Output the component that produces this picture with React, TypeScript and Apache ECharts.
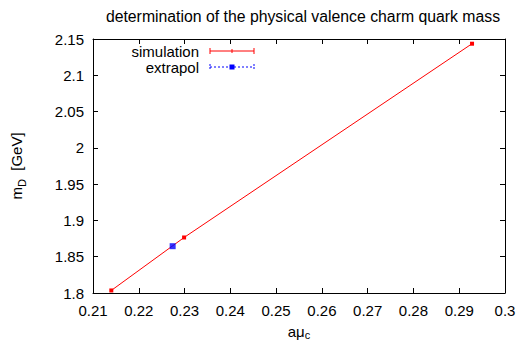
import React, { useEffect, useRef } from "react";
import * as echarts from "echarts";

const simX = [0.214, 0.2299, 0.2928];
const simY = [1.8035, 1.8765, 2.1435];
const extX = [0.2274];
const extY = [1.8645];
const xTicks = [0.21, 0.3];
const yTicks = [1.8, 2.15];

export default function App() {
  const ref = useRef<HTMLDivElement>(null);
  useEffect(() => {
    const chart = echarts.init(ref.current!, undefined, { renderer: "svg" });
    const font = "Liberation Sans";
    const fs = 15;
    const axisCommon = {
      type: "value",
      axisLine: { show: true, lineStyle: { color: "#000", width: 1 } },
      axisTick: { show: true, inside: true, length: 5, lineStyle: { color: "#000" } },
      splitLine: { show: false },
    };
    const sim = simX.map((x, i) => [x, simY[i]]);
    const ext = extX.map((x, i) => [x, extY[i]]);
    const lx1 = 210, lx2 = 254, ly1 = 51, ly2 = 67;
    const txt = { fontFamily: font, fontSize: fs, fill: "#000", align: "right", verticalAlign: "middle" };
    chart.setOption({
      animation: false,
      backgroundColor: "#fff",
      title: {
        text: "determination of the physical valence charm quark mass",
        left: 298,
        top: 3,
        textAlign: "center",
        textStyle: { fontFamily: font, fontSize: 15.8, fontWeight: "normal", color: "#000" },
      },
      grid: { left: 93, right: 15, top: 39, bottom: 48, containLabel: false, outerBoundsMode: "none" },
      xAxis: [
        {
          ...axisCommon,
          min: xTicks[0],
          max: xTicks[1],
          interval: 0.01,
          position: "bottom",
          axisLabel: {
            fontFamily: font, fontSize: fs, color: "#000", margin: 10,
            formatter: (v: number) => String(Number(v.toFixed(2))),
          },
          name: "{a|aμ}{s|c}",
          nameLocation: "middle",
          nameGap: 29,
          nameTextStyle: {
            rich: {
              a: { fontFamily: font, fontSize: fs, color: "#000", lineHeight: 16 },
              s: { fontFamily: font, fontSize: 11, color: "#000", lineHeight: 16, padding: [7, 0, 0, 0] },
            },
          },
        },
        {
          ...axisCommon,
          min: xTicks[0],
          max: xTicks[1],
          interval: 0.01,
          position: "top",
          axisLabel: { show: false },
        },
      ],
      yAxis: [
        {
          ...axisCommon,
          min: yTicks[0],
          max: yTicks[1],
          interval: 0.05,
          position: "left",
          axisLabel: {
            fontFamily: font, fontSize: fs, color: "#000", margin: 9,
            formatter: (v: number) => String(Number(v.toFixed(2))),
          },
          name: "{a|m}{s|D}{a|  [GeV]}",
          nameLocation: "middle",
          nameGap: 66,
          nameRotate: 90,
          nameTextStyle: {
            rich: {
              a: { fontFamily: font, fontSize: fs, color: "#000" },
              s: { fontFamily: font, fontSize: 11, color: "#000", padding: [10, 0, 0, 0] },
            },
          },
        },
        {
          ...axisCommon,
          min: yTicks[0],
          max: yTicks[1],
          interval: 0.05,
          position: "right",
          axisLabel: { show: false },
        },
      ],
      series: [
        {
          name: "simulation",
          type: "line",
          data: sim,
          symbol: "rect",
          symbolSize: 4,
          z: 2,
          lineStyle: { color: "#ff0000", width: 1 },
          itemStyle: { color: "#ff0000" },
        },
        {
          name: "extrapol",
          type: "scatter",
          data: ext,
          symbol: "rect",
          symbolSize: 6,
          z: 5,
          itemStyle: { color: "#0000ff" },
        },
      ],
      graphic: [
        { type: "text", x: 199, y: ly1, style: { ...txt, text: "simulation" } },
        { type: "text", x: 199, y: ly2, style: { ...txt, text: "extrapol" } },
        { type: "line", shape: { x1: lx1, y1: ly1, x2: lx2, y2: ly1 }, style: { stroke: "#ff0000", lineWidth: 1 } },
        { type: "line", shape: { x1: lx1, y1: ly1 - 3, x2: lx1, y2: ly1 + 3 }, style: { stroke: "#ff0000", lineWidth: 1 } },
        { type: "line", shape: { x1: lx2, y1: ly1 - 3, x2: lx2, y2: ly1 + 3 }, style: { stroke: "#ff0000", lineWidth: 1 } },
        { type: "line", shape: { x1: (lx1 + lx2) / 2, y1: ly1 - 2, x2: (lx1 + lx2) / 2, y2: ly1 + 2 }, style: { stroke: "#ff0000", lineWidth: 1 } },
        { type: "line", shape: { x1: lx1, y1: ly2, x2: lx2, y2: ly2 }, style: { stroke: "#0000ff", lineWidth: 1, lineDash: [2, 2] } },
        { type: "line", shape: { x1: lx1, y1: ly2 - 3, x2: lx1, y2: ly2 + 3 }, style: { stroke: "#0000ff", lineWidth: 1, lineDash: [2, 1] } },
        { type: "line", shape: { x1: lx2, y1: ly2 - 3, x2: lx2, y2: ly2 + 3 }, style: { stroke: "#0000ff", lineWidth: 1, lineDash: [2, 1] } },
        { type: "rect", shape: { x: (lx1 + lx2) / 2 - 2.5, y: ly2 - 2.5, width: 5, height: 5 }, style: { fill: "#0000ff" } },
      ],
    });
    return () => chart.dispose();
  }, []);
  return <div ref={ref} style={{ width: 520, height: 341, position: "absolute", left: 0, top: 0 }} />;
}
